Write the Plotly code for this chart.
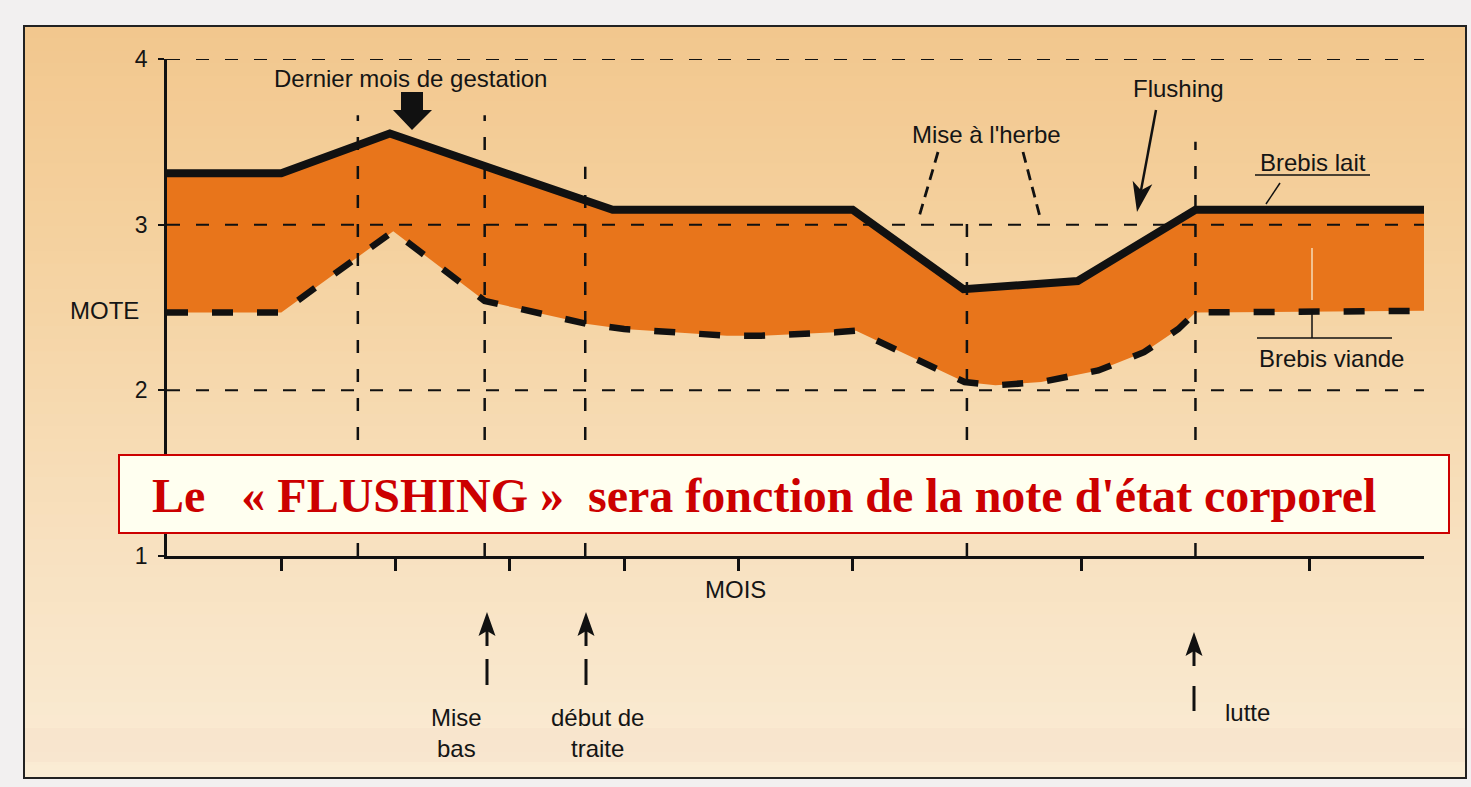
import plotly.graph_objects as go

# ---------------- data ----------------
months_lait = [0, 1, 1.95, 3.9, 6.0, 6.97, 7.97, 9.0, 11.0]
note_lait = [3.31, 3.31, 3.55, 3.09, 3.09, 2.61, 2.66, 3.09, 3.09]

months_viande = [0, 1, 1.98, 2.78, 3.68, 4.0, 4.9, 5.2, 5.85, 6.03, 6.98,
                 7.25, 7.65, 8.15, 8.55, 8.85, 9.0, 11.0]
note_viande = [2.47, 2.47, 2.96, 2.54, 2.40, 2.37, 2.33, 2.33, 2.35, 2.36, 2.05,
               2.03, 2.05, 2.12, 2.23, 2.37, 2.47, 2.48]

y_ticks = [1, 2, 3, 4]
y_tick_text = ["1", "2", "3", "4"]
y_grid = [2, 3, 4]
x_ticks = [1, 2, 3, 4, 5, 6, 8, 10]
event_months = [1.67, 2.78, 3.66, 7.0, 9.0]
event_tops = [3.66, 3.66, 3.35, 3.02, 3.50]
x_range = [0, 11]
y_range = [1, 4]

# ---------------- styles ----------------
ORANGE = "#E8751B"
BLACK = "#111111"
RED = "#CC0000"
SANS = "Liberation Sans, Arial, Helvetica, sans-serif"
SERIF = "Liberation Serif, Times New Roman, serif"

W, H = 1471, 787
L, R, T, B = 167, 47, 59, 231
PW, PH = W - L - R, H - T - B


def px(x):
    return (x - L) / PW


def py(y):
    return (H - B - y) / PH


def pt(x, y):
    return f"{px(x):.5f},{py(y):.5f}"


fig = go.Figure()

# fill between the two curves
fig.add_trace(go.Scatter(
    x=months_lait + months_viande[::-1],
    y=note_lait + note_viande[::-1],
    mode="lines", fill="toself", fillcolor=ORANGE,
    line=dict(width=0, color=ORANGE), hoverinfo="skip", showlegend=False))

# dashed horizontal grid lines
for g in y_grid:
    fig.add_trace(go.Scatter(
        x=x_range, y=[g, g], mode="lines",
        line=dict(color=BLACK, width=2, dash="13px,16px"),
        hoverinfo="skip", showlegend=False))

# dashed vertical reference lines
for m, top in zip(event_months, event_tops):
    fig.add_trace(go.Scatter(
        x=[m, m], y=[y_range[0], top], mode="lines",
        line=dict(color=BLACK, width=2.5, dash="13px,16px"),
        hoverinfo="skip", showlegend=False))

# curves
fig.add_trace(go.Scatter(
    x=months_viande, y=note_viande, mode="lines", name="Brebis viande",
    line=dict(color=BLACK, width=6.5, dash="21px,24px"),
    hoverinfo="skip", showlegend=False))
fig.add_trace(go.Scatter(
    x=months_lait, y=note_lait, mode="lines", name="Brebis lait",
    line=dict(color=BLACK, width=8),
    hoverinfo="skip", showlegend=False))

shapes = []


# background gradient (paper bands)
def lerp(c1, c2, t):
    return tuple(int(round(a + (b - a) * t)) for a, b in zip(c1, c2))


stops = [(26, (242, 199, 141)), (300, (245, 212, 164)),
         (550, (248, 225, 192)), (778, (250, 236, 213))]
top, bot = 26, 778
n = 60
for i in range(n):
    y0 = top + (bot - top) * i / n
    y1 = top + (bot - top) * (i + 1) / n
    ym = (y0 + y1) / 2
    for (a, ca), (b, cb) in zip(stops[:-1], stops[1:]):
        if a <= ym <= b:
            c = lerp(ca, cb, (ym - a) / (b - a))
            break
    shapes.append(dict(type="rect", xref="paper", yref="paper", layer="below",
                       x0=px(24), x1=px(1466), y0=py(y1 + 0.5), y1=py(y0 - 0.5),
                       fillcolor=f"rgb{c}", line=dict(width=0)))
# faint pink band near bottom
shapes.append(dict(type="rect", xref="paper", yref="paper", layer="below",
                   x0=px(24), x1=px(1466), y0=py(762), y1=py(728),
                   fillcolor="rgba(225,180,170,0.08)", line=dict(width=0)))
# frame
shapes.append(dict(type="rect", xref="paper", yref="paper", layer="below",
                   x0=px(24), x1=px(1466), y0=py(778), y1=py(26),
                   line=dict(color="#222222", width=2)))

# red message box
shapes.append(dict(type="rect", xref="paper", yref="paper", layer="above",
                   x0=px(119), x1=px(1449), y0=py(533), y1=py(455),
                   fillcolor="#FFFFF0", line=dict(color=RED, width=2)))

# big down arrow (Dernier mois de gestation)
big = [(401, 92), (423, 92), (423, 110), (432, 110), (412, 130), (393, 110), (401, 110)]
shapes.append(dict(type="path", xref="paper", yref="paper", layer="above",
                   path="M " + " L ".join(pt(*p) for p in big) + " Z",
                   fillcolor=BLACK, line=dict(width=0)))


def arrow(tip, tail, hl, hw, notch, lw):
    tx, ty = tip
    ax, ay = tail
    d = ((ax - tx) ** 2 + (ay - ty) ** 2) ** 0.5
    ux, uy = (ax - tx) / d, (ay - ty) / d
    bx, by = tx + ux * hl, ty + uy * hl
    nx, ny = -uy, ux
    left = (bx + nx * hw / 2, by + ny * hw / 2)
    right = (bx - nx * hw / 2, by - ny * hw / 2)
    nt = (tx + ux * (hl - notch), ty + uy * (hl - notch))
    shapes.append(dict(type="path", xref="paper", yref="paper", layer="above",
                       path=f"M {pt(*tip)} L {pt(*left)} L {pt(*nt)} L {pt(*right)} Z",
                       fillcolor=BLACK, line=dict(width=0)))
    shapes.append(dict(type="line", xref="paper", yref="paper", layer="above",
                       x0=px(nt[0]), y0=py(nt[1]), x1=px(ax), y1=py(ay),
                       line=dict(color=BLACK, width=lw)))


def seg(x0, y0, x1, y1, w=2, color=BLACK, dash=None):
    ln = dict(color=color, width=w)
    if dash:
        ln["dash"] = dash
    shapes.append(dict(type="line", xref="paper", yref="paper", layer="above",
                       x0=px(x0), y0=py(y0), x1=px(x1), y1=py(y1), line=ln))


# Flushing arrow
arrow((1137, 212), (1156, 110), 30, 20, 8, 2.5)
# bottom event arrows
arrow((487, 612), (487, 646), 24, 17, 5, 3)
seg(487, 659, 487, 685, 3)
arrow((586, 612), (586, 646), 24, 17, 5, 3)
seg(586, 659, 586, 685, 3)
arrow((1194, 632), (1194, 666), 24, 17, 5, 3)
seg(1194, 686, 1194, 711, 3)

# Mise a l'herbe leaders
seg(938, 152, 919, 217, 2.8, dash="11px,7px")
seg(1023, 152, 1040, 217, 2.8, dash="11px,7px")
# Brebis lait leader
seg(1255, 175, 1370, 175, 1.5)
seg(1280, 183, 1266, 204, 1.5)
# Brebis viande leader
seg(1257, 338, 1392, 338, 1.5)
seg(1312, 248, 1312, 300, 1.5, color="#F6DDB8")
seg(1312, 309, 1312, 338, 1.5)

annotations = []


def label(text, x, y, size=24, xanchor="center", font=SANS, color="#151515", bold=False):
    if bold:
        text = f"<b>{text}</b>"
    annotations.append(dict(text=text, x=px(x), y=py(y), xref="paper", yref="paper",
                            xanchor=xanchor, yanchor="middle", showarrow=False,
                            font=dict(family=font, size=size, color=color)))


label("Dernier mois de gestation", 410, 78)
label("Mise à l'herbe", 986, 134)
label("Flushing", 1178, 88)
label("Brebis lait", 1313, 162)
label("Brebis viande", 1331, 358)
label("MOTE", 104, 310)
label("MOIS", 735, 589)
label("Mise<br>bas", 456, 733)
label("début de<br>traite", 597, 733)
label("lutte", 1247, 712)
label("Le\u00a0\u00a0\u00a0« FLUSHING »\u00a0\u00a0sera fonction de la note d'état corporel",
      150, 495, size=48, xanchor="left", font=SERIF, color=RED, bold=True)

fig.update_layout(
    width=W, height=H,
    margin=dict(l=L, r=R, t=T, b=B, autoexpand=False),
    paper_bgcolor="#F2F0F0", plot_bgcolor="rgba(0,0,0,0)",
    shapes=shapes, annotations=annotations, showlegend=False,
    xaxis=dict(range=x_range, showgrid=False, zeroline=False, showline=True,
               linecolor=BLACK, linewidth=2.5, ticks="outside", ticklen=12,
               tickwidth=2.5, tickcolor=BLACK, tickvals=x_ticks,
               showticklabels=False, fixedrange=True),
    yaxis=dict(range=y_range, showgrid=False, zeroline=False, showline=True,
               linecolor=BLACK, linewidth=2.5, ticks="outside", ticklen=6,
               tickwidth=2, tickcolor=BLACK, tickvals=y_ticks, ticktext=y_tick_text,
               tickfont=dict(family=SANS, size=23, color="#151515"),
               ticklabelstandoff=6, fixedrange=True),
)

fig.write_html("out.html", config={"displayModeBar": False},
               post_script="document.body.style.margin='0px';document.body.style.padding='0px';")
